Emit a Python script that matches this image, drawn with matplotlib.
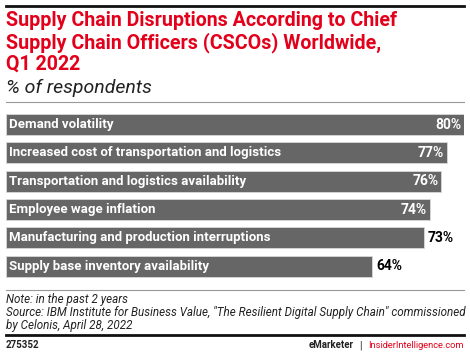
import matplotlib.pyplot as plt
from matplotlib.lines import Line2D

categories = [
    "Demand volatility",
    "Increased cost of transportation and logistics",
    "Transportation and logistics availability",
    "Employee wage inflation",
    "Manufacturing and production interruptions",
    "Supply base inventory availability",
]
values = [80, 77, 76, 74, 73, 64]
inside_label = [True, True, True, True, False, False]

W, H = 470, 355
FONT = "Roboto"
RED = "#e3001b"
BAR = "#666666"

fig = plt.figure(figsize=(W / 100, H / 100), dpi=100)


def fx(px):
    return px / W


def fy(py):
    return 1 - py / H


def hline(y, lw, color):
    fig.add_artist(Line2D([fx(6), fx(464)], [fy(y), fy(y)], lw=lw, color=color,
                          transform=fig.transFigure))


# header
hline(6, 2.0, "#111111")
title = ["Supply Chain Disruptions According to Chief",
         "Supply Chain Officers (CSCOs) Worldwide,",
         "Q1 2022"]
for i, line in enumerate(title):
    fig.text(fx(6), fy(21 + i * 21.5), line, color=RED, fontsize=14.1,
             fontweight="bold", family=FONT, va="center", ha="left")
fig.text(fx(6), fy(88), "% of respondents", fontsize=14, style="italic",
         family=FONT, va="center", ha="left", color="#222222")
hline(102, 0.8, "#999999")

# bars
top, bottom = 110.35, 280.35
ax = fig.add_axes([fx(6), fy(bottom), fx(464) - fx(6), (bottom - top) / H])
ypos = list(range(len(categories)))
ax.barh(ypos, values, height=0.75, color=BAR, edgecolor="#d9d9d9", linewidth=0.6)
ax.set_xlim(0, 80)
ax.set_ylim(len(categories) - 0.5, -0.5)
ax.axis("off")

for y, cat, v, inside in zip(ypos, categories, values, inside_label):
    ax.annotate(cat, (0, y), xytext=(2.5, 0), textcoords="offset points",
                color="white", fontsize=9.5, fontweight="bold", family=FONT,
                va="center", ha="left")
    if inside:
        ax.annotate(f"{v}%", (v, y), xytext=(-2, 0), textcoords="offset points",
                    color="white", fontsize=10, fontweight="bold", family=FONT,
                    va="center", ha="right")
    else:
        ax.annotate(f"{v}%", (v, y), xytext=(3, 0), textcoords="offset points",
                    color="black", fontsize=10, fontweight="bold", family=FONT,
                    va="center", ha="left")

# footer
hline(290, 0.8, "#999999")
notes = ["Note: in the past 2 years",
         "Source: IBM Institute for Business Value, \"The Resilient Digital Supply Chain\" commissioned",
         "by Celonis, April 28, 2022"]
for i, line in enumerate(notes):
    fig.text(fx(6), fy(300 + i * 12.5), line, fontsize=8.4, style="italic",
             family=FONT, va="center", ha="left", color="#222222")
hline(335, 2.0, "#111111")
fig.text(fx(6), fy(345), "275352", fontsize=7.0, fontweight="bold", family=FONT,
         va="center", ha="left", color="#222222")
fig.text(fx(464), fy(345), "InsiderIntelligence.com", fontsize=6.7, family=FONT,
         va="center", ha="right", color=RED)
fig.text(fx(360), fy(345), "|", fontsize=7.0, family=FONT,
         va="center", ha="center", color="#222222")
fig.text(fx(354), fy(345), "eMarketer", fontsize=6.9, family=FONT,
         fontweight="bold", va="center", ha="right", color="#222222")

fig.savefig("out.png", dpi=100)
